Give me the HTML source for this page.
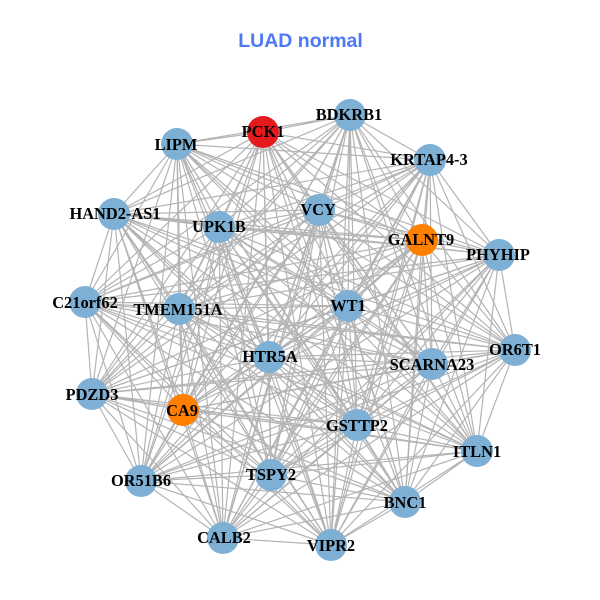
<!DOCTYPE html>
<html><head><meta charset="utf-8"><style>html,body{margin:0;padding:0;background:#fff}svg{display:block}
text{font-family:"Liberation Serif",serif;font-weight:bold;font-size:16.4px;fill:#000;text-anchor:middle}</style></head><body>
<svg width="600" height="600" viewBox="0 0 600 600" xmlns="http://www.w3.org/2000/svg">
<rect width="600" height="600" fill="#fff"/>
<text x="300.500" y="47" style="font-family:'Liberation Sans',sans-serif;font-size:19.5px;fill:#4d79f6">LUAD normal</text>
<g fill="none" stroke="#b4b4b4" stroke-width="1.2">
<path d="M350 115L263 132ZL177 144ZL430 160ZL114 214ZL219 227ZL319 210ZL422 240ZL499 255ZL85 302ZL179 309ZL348 306ZL515 350ZL269 357ZL432 364ZL92 394ZL183 410ZL357 425ZL477 451ZL141 481ZL271 475ZL405 502ZL223 538ZL331 545Z"/>
<path d="M263 132L177 144ZL430 160ZL114 214ZL219 227ZL319 210ZL422 240ZL499 255ZL85 302ZL179 309ZL348 306ZL515 350ZL269 357ZL432 364ZL92 394ZL183 410ZL357 425ZL477 451ZL141 481ZL271 475ZL405 502ZL223 538ZL331 545Z"/>
<path d="M177 144L430 160ZL114 214ZL219 227ZL319 210ZL422 240ZL499 255ZL85 302ZL179 309ZL348 306ZL515 350ZL269 357ZL432 364ZL92 394ZL183 410ZL357 425ZL477 451ZL141 481ZL271 475ZL405 502ZL223 538ZL331 545Z"/>
<path d="M430 160L114 214ZL219 227ZL319 210ZL422 240ZL499 255ZL85 302ZL179 309ZL348 306ZL515 350ZL269 357ZL432 364ZL92 394ZL183 410ZL357 425ZL477 451ZL141 481ZL271 475ZL405 502ZL223 538ZL331 545Z"/>
<path d="M114 214L219 227ZL319 210ZL422 240ZL499 255ZL85 302ZL179 309ZL348 306ZL515 350ZL269 357ZL432 364ZL92 394ZL183 410ZL357 425ZL477 451ZL141 481ZL271 475ZL405 502ZL223 538ZL331 545Z"/>
<path d="M219 227L319 210ZL422 240ZL499 255ZL85 302ZL179 309ZL348 306ZL515 350ZL269 357ZL432 364ZL92 394ZL183 410ZL357 425ZL477 451ZL141 481ZL271 475ZL405 502ZL223 538ZL331 545Z"/>
<path d="M319 210L422 240ZL499 255ZL85 302ZL179 309ZL348 306ZL515 350ZL269 357ZL432 364ZL92 394ZL183 410ZL357 425ZL477 451ZL141 481ZL271 475ZL405 502ZL223 538ZL331 545Z"/>
<path d="M422 240L499 255ZL85 302ZL179 309ZL348 306ZL515 350ZL269 357ZL432 364ZL92 394ZL183 410ZL357 425ZL477 451ZL141 481ZL271 475ZL405 502ZL223 538ZL331 545Z"/>
<path d="M499 255L85 302ZL179 309ZL348 306ZL515 350ZL269 357ZL432 364ZL92 394ZL183 410ZL357 425ZL477 451ZL141 481ZL271 475ZL405 502ZL223 538ZL331 545Z"/>
<path d="M85 302L179 309ZL348 306ZL515 350ZL269 357ZL432 364ZL92 394ZL183 410ZL357 425ZL477 451ZL141 481ZL271 475ZL405 502ZL223 538ZL331 545Z"/>
<path d="M179 309L348 306ZL515 350ZL269 357ZL432 364ZL92 394ZL183 410ZL357 425ZL477 451ZL141 481ZL271 475ZL405 502ZL223 538ZL331 545Z"/>
<path d="M348 306L515 350ZL269 357ZL432 364ZL92 394ZL183 410ZL357 425ZL477 451ZL141 481ZL271 475ZL405 502ZL223 538ZL331 545Z"/>
<path d="M515 350L269 357ZL432 364ZL92 394ZL183 410ZL357 425ZL477 451ZL141 481ZL271 475ZL405 502ZL223 538ZL331 545Z"/>
<path d="M269 357L432 364ZL92 394ZL183 410ZL357 425ZL477 451ZL141 481ZL271 475ZL405 502ZL223 538ZL331 545Z"/>
<path d="M432 364L92 394ZL183 410ZL357 425ZL477 451ZL141 481ZL271 475ZL405 502ZL223 538ZL331 545Z"/>
<path d="M92 394L183 410ZL357 425ZL477 451ZL141 481ZL271 475ZL405 502ZL223 538ZL331 545Z"/>
<path d="M183 410L357 425ZL477 451ZL141 481ZL271 475ZL405 502ZL223 538ZL331 545Z"/>
<path d="M357 425L477 451ZL141 481ZL271 475ZL405 502ZL223 538ZL331 545Z"/>
<path d="M477 451L141 481ZL271 475ZL405 502ZL223 538ZL331 545Z"/>
<path d="M141 481L271 475ZL405 502ZL223 538ZL331 545Z"/>
<path d="M271 475L405 502ZL223 538ZL331 545Z"/>
<path d="M405 502L223 538ZL331 545Z"/>
<path d="M223 538L331 545Z"/>
</g>
<g fill="#7eb0d5">
<circle cx="350" cy="115" r="16"/><circle cx="263" cy="132" r="16" fill="#e41a1c"/><circle cx="177" cy="144" r="16"/><circle cx="430" cy="160" r="16"/><circle cx="114" cy="214" r="16"/><circle cx="219" cy="227" r="16"/><circle cx="319" cy="210" r="16"/><circle cx="422" cy="240" r="16" fill="#ff7f00"/><circle cx="499" cy="255" r="16"/><circle cx="85" cy="302" r="16"/><circle cx="179" cy="309" r="16"/><circle cx="348" cy="306" r="16"/><circle cx="515" cy="350" r="16"/><circle cx="269" cy="357" r="16"/><circle cx="432" cy="364" r="16"/><circle cx="92" cy="394" r="16"/><circle cx="183" cy="410" r="16" fill="#ff7f00"/><circle cx="357" cy="425" r="16"/><circle cx="477" cy="451" r="16"/><circle cx="141" cy="481" r="16"/><circle cx="271" cy="475" r="16"/><circle cx="405" cy="502" r="16"/><circle cx="223" cy="538" r="16"/><circle cx="331" cy="545" r="16"/>
</g>
<text x="349" y="120">BDKRB1</text><text x="263" y="137">PCK1</text><text x="176" y="150">LIPM</text><text x="429" y="165">KRTAP4-3</text><text x="115" y="219">HAND2-AS1</text><text x="219" y="232">UPK1B</text><text x="318" y="215">VCY</text><text x="421" y="245">GALNT9</text><text x="498" y="260">PHYHIP</text><text x="85" y="308">C21orf62</text><text x="178" y="315">TMEM151A</text><text x="348" y="311">WT1</text><text x="515" y="355">OR6T1</text><text x="270" y="362">HTR5A</text><text x="432" y="370">SCARNA23</text><text x="92" y="400">PDZD3</text><text x="182" y="416">CA9</text><text x="357" y="431">GSTTP2</text><text x="477" y="457">ITLN1</text><text x="141" y="486">OR51B6</text><text x="271" y="480">TSPY2</text><text x="405" y="508">BNC1</text><text x="224" y="543">CALB2</text><text x="331" y="551">VIPR2</text>
</svg></body></html>
